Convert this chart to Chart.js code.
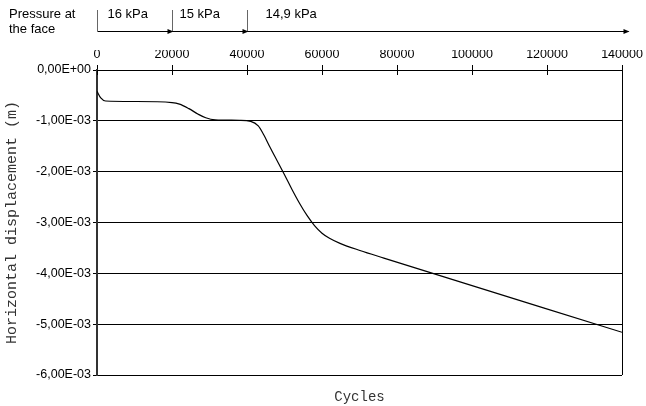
<!DOCTYPE html>
<html>
<head>
<meta charset="utf-8">
<script src="https://cdn.jsdelivr.net/npm/chart.js@4"></script>
<style>
  html, body { margin: 0; padding: 0; background: #fff; }
  #wrap { width: 646px; height: 406px; }
</style>
</head>
<body>
<div id="wrap"><canvas id="c" width="646" height="406"></canvas></div>
<script>
// data (cycles, horizontal displacement in m)
const cycles = [0, 1000, 2300, 10000, 20000, 22000, 24500, 27000, 29000, 31500, 38000,
                41000, 43000, 44500, 46000, 48000, 50000, 52000, 54000, 56000, 58000,
                60000, 62000, 64800, 70100, 76500, 140000];
const displacement = [-0.00042, -0.00055, -0.00061, -0.00062, -0.00064, -0.00067, -0.00076, -0.00087,
                      -0.00094, -0.00098, -0.00099, -0.00101, -0.00110, -0.00128, -0.00150, -0.00178,
                      -0.00206, -0.00235, -0.00262, -0.00286, -0.00306, -0.00321, -0.00331, -0.00341,
                      -0.00355, -0.00370, -0.00516];

// pressure stages at the face
const stageBounds = [0, 20000, 40000, 141500];
const stageLabels = ['16 kPa', '15 kPa', '14,9 kPa'];

// format like "-1,00E-03"
function sci(v) {
    if (Math.abs(v) < 1e-12) return '0,00E+00';
    const parts = v.toExponential(2).split('e');
    const n = parseInt(parts[1]);
    return parts[0].replace('.', ',') + 'E' + (n < 0 ? '-' : '+') + String(Math.abs(n)).padStart(2, '0');
}

const sans = 'Liberation Sans, Arial, sans-serif';
const mono = 'Liberation Mono, Courier New, monospace';

// extra drawing: pressure arrows, inner tick marks, right border, x title
const extras = {
    id: 'extras',
    afterDraw(chart) {
        const ctx = chart.ctx;
        const x = chart.scales.x;
        const area = chart.chartArea;
        ctx.save();
        ctx.strokeStyle = '#000';
        ctx.fillStyle = '#000';
        ctx.lineWidth = 1;

        // right border
        ctx.beginPath();
        ctx.moveTo(area.right + 0.5, area.top);
        ctx.lineTo(area.right + 0.5, area.bottom);
        ctx.stroke();

        // tick marks crossing into the plot
        x.ticks.forEach(t => {
            const px = Math.round(x.getPixelForValue(t.value)) + 0.5;
            ctx.beginPath();
            ctx.moveTo(px, area.top);
            ctx.lineTo(px, area.top + 5);
            ctx.stroke();
        });

        // pressure at the face
        const lineY = 31.5;
        ctx.font = '13px ' + sans;
        ctx.textBaseline = 'middle';
        ctx.textAlign = 'left';
        ctx.fillText('Pressure at', 9, 14);
        ctx.fillText('the face', 9, 29);

        const px = stageBounds.map(v => Math.round(x.getPixelForValue(v)) + 0.5);
        ctx.beginPath();
        ctx.moveTo(px[0], lineY);
        ctx.lineTo(px[px.length - 1], lineY);
        ctx.stroke();
        for (let i = 0; i < px.length; i++) {
            if (i < px.length - 1) {
                ctx.strokeStyle = '#666';
                ctx.beginPath();
                ctx.moveTo(px[i], 10);
                ctx.lineTo(px[i], lineY);
                ctx.stroke();
                ctx.strokeStyle = '#000';
            }
            if (i > 0) {
                ctx.beginPath();
                ctx.moveTo(px[i] + 1, lineY);
                ctx.lineTo(px[i] - 5, lineY - 2.5);
                ctx.lineTo(px[i] - 5, lineY + 2.5);
                ctx.closePath();
                ctx.fill();
            }
        }
        ctx.fillText(stageLabels[0], px[0] + 10, 14);
        ctx.fillText(stageLabels[1], px[1] + 7, 14);
        ctx.fillText(stageLabels[2], px[2] + 18, 14);

        // x axis title at the bottom
        ctx.font = '14px ' + mono;
        ctx.fillStyle = '#333';
        ctx.textAlign = 'center';
        ctx.fillText('Cycles', (area.left + area.right) / 2, 397);
        ctx.restore();
    }
};

new Chart(document.getElementById('c'), {
    type: 'line',
    data: {
        datasets: [{
            data: cycles.map((c, i) => ({ x: c, y: displacement[i] })),
            borderColor: '#000',
            borderWidth: 1.2,
            pointRadius: 0,
            cubicInterpolationMode: 'monotone',
            fill: false
        }]
    },
    options: {
        responsive: false,
        animation: false,
        layout: { padding: { top: 50, bottom: 31, left: 0, right: 24 } },
        plugins: { legend: { display: false }, tooltip: { enabled: false } },
        scales: {
            x: {
                type: 'linear',
                position: 'top',
                min: 0,
                max: 140000,
                afterFit: s => { s.height = 20; },
                ticks: {
                    stepSize: 20000,
                    color: '#000',
                    font: { family: sans, size: 12.5 },
                    padding: 3,
                    maxRotation: 0,
                    callback: v => String(v)
                },
                grid: { drawOnChartArea: false, tickLength: 5, color: '#000' },
                border: { color: '#000', width: 1 }
            },
            y: {
                min: -0.006,
                max: 0,
                afterFit: s => { s.width = 97; },
                ticks: {
                    stepSize: 0.001,
                    color: '#000',
                    font: { family: sans, size: 12.5 },
                    padding: 2,
                    callback: v => sci(v)
                },
                grid: { color: '#000', lineWidth: 1, tickLength: 4 },
                border: { color: '#333', width: 2 },
                title: {
                    display: true,
                    text: 'Horizontal displacement (m)',
                    color: '#333',
                    font: { family: mono, size: 15 },
                    padding: { top: 3, bottom: 0 }
                }
            }
        }
    },
    plugins: [extras]
});
</script>
</body>
</html>
